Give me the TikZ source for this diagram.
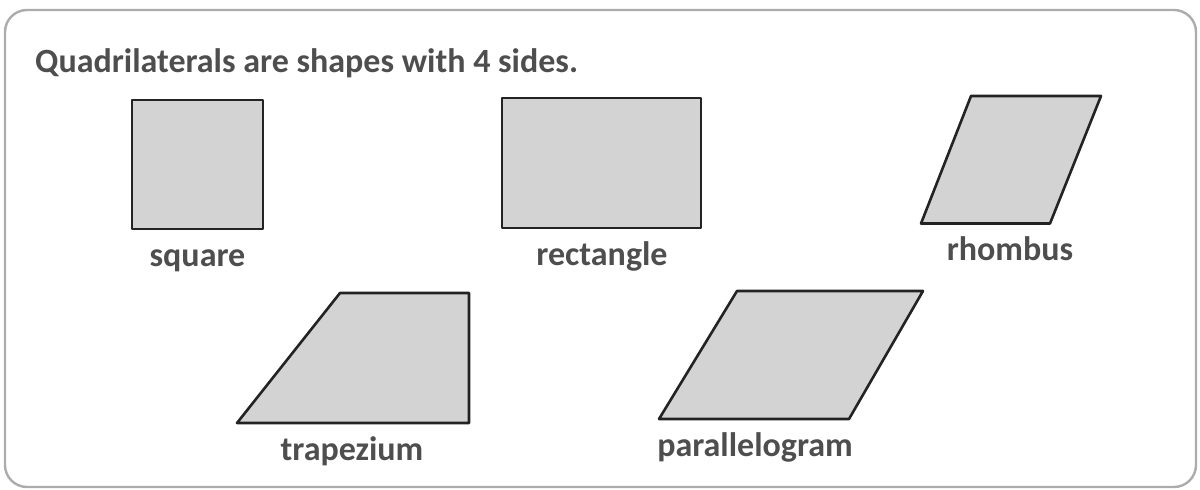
\documentclass[tikz,border=0pt]{standalone}
\usepackage{fontspec}
\setmainfont{Carlito}
\usetikzlibrary{positioning}
\definecolor{quadfill}{RGB}{211,211,211}
\definecolor{quadline}{RGB}{35,35,35}
\definecolor{textgrey}{RGB}{78,78,78}
\definecolor{framegrey}{RGB}{172,172,172}
\tikzset{quad/.style={draw=quadline, fill=quadfill, line width=2.6pt, line join=round},
  shapename/.style={inner sep=0pt, text=textgrey, text height=25pt, text depth=8pt,
    font=\fontsize{34}{40}\selectfont\bfseries}}

\begin{document}
\begin{tikzpicture}[x=1pt, y=-1pt]
    \useasboundingbox (0,0) rectangle (1200,490);
    \draw[framegrey, line width=2.4pt, rounded corners=22pt] (5,10) rectangle (1196,487);
    \node[anchor=base west, inner sep=0pt, text=textgrey, font=\fontsize{34}{40}\selectfont\bfseries] (title) at (35,72) {Quadrilaterals are shapes with 4 sides.};

    % top row
    \draw[quad] (132,100) rectangle (263,229);
    \coordinate (squarefoot) at (197.5,229);
    \draw[quad] (502,98) rectangle (701,228);
    \coordinate (rectanglefoot) at (602,228);
    \draw[quad] (971,96) -- (1101,96) -- (1050,223.5) -- (921,223.5) -- cycle;
    \coordinate (rhombusfoot) at (1010,223.5);

    % bottom row
    \draw[quad] (340,293) -- (469,293) -- (469,423) -- (237,423) -- cycle;
    \coordinate (trapeziumfoot) at (352,423);
    \draw[quad] (737,291) -- (923,291) -- (849,419) -- (659,419) -- cycle;
    \coordinate (parallelogramfoot) at (755,419);

    \node[shapename, below=12pt of squarefoot] (square) {square};
    \node[shapename, below=12pt of rectanglefoot] (rectangle) {rectangle};
    \node[shapename, below=12pt of rhombusfoot] (rhombus) {rhombus};
    \node[shapename, below=12pt of trapeziumfoot] (trapezium) {trapezium};
    \node[shapename, below=12pt of parallelogramfoot] (parallelogram) {parallelogram};
\end{tikzpicture}
\end{document}
